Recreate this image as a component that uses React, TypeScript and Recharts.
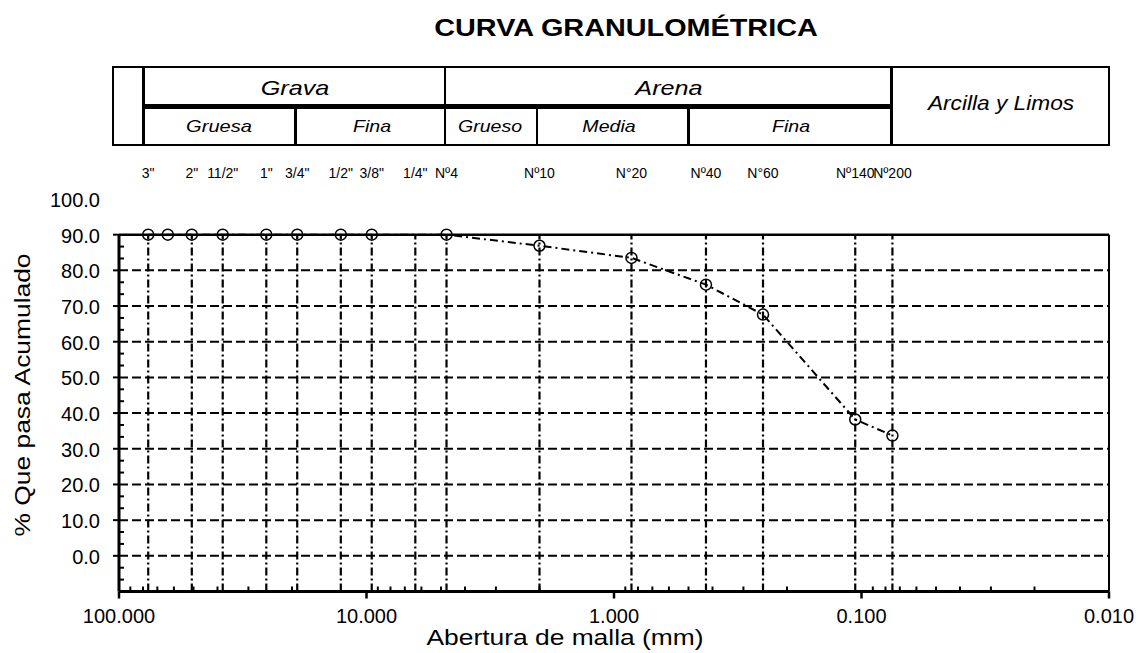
import { Label, Line, LineChart, ReferenceLine, XAxis, YAxis } from "recharts";

// Sieve openings (mm) and their names, as printed above the plot.
const SIEVE_NAMES = ['3"', '2"', '11/2"', '1"', '3/4"', '1/2"', '3/8"', '1/4"', "Nº4", "Nº10", "N°20", "Nº40", "N°60", "Nº140", "Nº200"];
const SIEVE_MM = [76.2, 50.8, 38.1, 25.4, 19.05, 12.7, 9.525, 6.35, 4.75, 2.0, 0.85, 0.425, 0.25, 0.106, 0.075];

// Sample: opening (mm) and % passing.
const SAMPLE_MM = [76.2, 63.5, 50.8, 38.1, 25.4, 19.05, 12.7, 9.525, 4.75, 2.0, 0.85, 0.425, 0.25, 0.106, 0.075];
const SAMPLE_PASS = [90.0, 90.0, 90.0, 90.0, 90.0, 90.0, 90.0, 90.0, 90.0, 86.9, 83.5, 76.0, 67.6, 38.2, 33.7];

const X_MAJOR = [100, 10, 1, 0.1, 0.01];
const X_MINOR_MULT = [2, 3, 4, 5, 6, 7, 8, 9];
const X_DECADES = [10, 1, 0.1, 0.01];
const X_MINOR = X_DECADES.flatMap((d) => X_MINOR_MULT.map((m) => m * d));

const Y_MAJOR = [0, 10, 20, 30, 40, 50, 60, 70, 80, 90, 100];
const Y_GRID = [0, 10, 20, 30, 40, 50, 60, 70, 80];
const Y_MINOR = [-10, ...Y_GRID].flatMap((v) => [v + 10 / 3, v + 20 / 3]);

const FONT = '"Liberation Sans", Arial, sans-serif';
const INK = "#000";

const data = SAMPLE_MM.map((mm, i) => ({ mm, pass: SAMPLE_PASS[i] }));

const near = (a: number, b: number) => Math.abs(a - b) < 1e-9;

function XTick(props: any) {
  const { x, y, payload } = props;
  const v = payload.value;
  if (X_MAJOR.some((m) => near(m, v))) {
    return (
      <g>
        <line x1={x} x2={x} y1={y} y2={y + 7} stroke={INK} strokeWidth={2.5} />
        <text x={x} y={y + 31} textAnchor="middle" fontSize={20} fontFamily={FONT} fill={INK}>
          {v.toFixed(3)}
        </text>
      </g>
    );
  }
  return <line x1={x} x2={x} y1={y} y2={y - 5} stroke={INK} strokeWidth={2} />;
}

function YTick(props: any) {
  const { x, y, payload } = props;
  const v = payload.value;
  if (Y_MAJOR.includes(v)) {
    return (
      <g>
        {v <= 90 && <line x1={x - 6} x2={x} y1={y} y2={y} stroke={INK} strokeWidth={2} />}
        <text x={x - 19} y={y + 8} textAnchor="end" fontSize={20} fontFamily={FONT} fill={INK}>
          {v.toFixed(1)}
        </text>
      </g>
    );
  }
  return <line x1={x} x2={x + 5} y1={y} y2={y} stroke={INK} strokeWidth={2} />;
}

function SieveTick(props: any) {
  const { x, y, payload } = props;
  const i = SIEVE_MM.findIndex((s) => Math.abs(s - payload.value) < 1e-6);
  return (
    <text x={x} y={y - 21} textAnchor="middle" fontSize={14} fontFamily={FONT} fill={INK}>
      {i >= 0 ? SIEVE_NAMES[i] : ""}
    </text>
  );
}

function Dot(props: any) {
  const { cx, cy, index } = props;
  return <circle key={index} cx={cx} cy={cy} r={5.5} fill="none" stroke={INK} strokeWidth={1.5} />;
}

function Txt({ x, y, size, italic, bold, sx = 1.2, children }: any) {
  return (
    <div
      style={{
        position: "absolute",
        left: x,
        top: y,
        transform: `translate(-50%, -50%) scaleX(${sx})`,
        fontSize: size,
        fontStyle: italic ? "italic" : "normal",
        fontWeight: bold ? 700 : 400,
        whiteSpace: "nowrap",
        lineHeight: 1,
      }}
    >
      {children}
    </div>
  );
}

function Rule({ l, t, w, h }: any) {
  return <div style={{ position: "absolute", left: l, top: t, width: w, height: h, background: INK }} />;
}

function Header() {
  return (
    <>
      <div
        style={{
          position: "absolute",
          left: 112,
          top: 66,
          width: 998,
          height: 80,
          border: "2px solid #000",
          boxSizing: "border-box",
        }}
      />
      <Rule l={142} t={66} w={3} h={80} />
      <Rule l={143} t={104} w={748} h={5} />
      <Rule l={444} t={66} w={2} h={80} />
      <Rule l={890} t={66} w={3} h={80} />
      <Rule l={294} t={106} w={3} h={40} />
      <Rule l={536} t={106} w={2} h={40} />
      <Rule l={687} t={106} w={3} h={40} />

      <Txt x={295} y={87} size={21} italic>Grava</Txt>
      <Txt x={669} y={87} size={21} italic>Arena</Txt>
      <Txt x={1001} y={102} size={21} italic sx={1.08}>Arcilla y Limos</Txt>
      <Txt x={219} y={126} size={17} italic sx={1.18}>Gruesa</Txt>
      <Txt x={372} y={126} size={17} italic sx={1.15}>Fina</Txt>
      <Txt x={490} y={126} size={17} italic sx={1.15}>Grueso</Txt>
      <Txt x={609} y={126} size={17} italic sx={1.15}>Media</Txt>
      <Txt x={791} y={126} size={17} italic sx={1.15}>Fina</Txt>
    </>
  );
}

export default function App() {
  return (
    <div
      style={{
        position: "absolute",
        left: 0,
        top: 0,
        width: 1138,
        height: 653,
        background: "#fff",
        fontFamily: FONT,
        color: INK,
        overflow: "hidden",
      }}
    >
      <LineChart width={1138} height={653} data={data} margin={{ top: 169, right: 29, bottom: 0, left: 59 }}>
        <XAxis
          xAxisId="main"
          dataKey="mm"
          type="number"
          scale="log"
          domain={[0.01, 100]}
          reversed
          allowDataOverflow
          ticks={[...X_MAJOR, ...X_MINOR]}
          interval={0}
          tick={XTick}
          tickLine={false}
          tickSize={0}
          tickMargin={0}
          axisLine={{ stroke: INK, strokeWidth: 3 }}
          height={61.5}
        >
          <Label
            content={() => (
              <text
                x={565}
                y={645}
                textAnchor="middle"
                fontSize={22}
                fontFamily={FONT}
                fill={INK}
                transform="translate(565 645) scale(1.2 1) translate(-565 -645)"
              >
                Abertura de malla (mm)
              </text>
            )}
          />
        </XAxis>
        <XAxis
          xAxisId="sieve"
          dataKey="mm"
          orientation="top"
          type="number"
          scale="log"
          domain={[0.01, 100]}
          reversed
          allowDataOverflow
          ticks={SIEVE_MM}
          interval={0}
          tick={SieveTick}
          tickLine={false}
          tickSize={0}
          tickMargin={0}
          axisLine={false}
          height={30}
        />
        <YAxis
          type="number"
          domain={[-10, 100]}
          allowDataOverflow
          ticks={[...Y_MAJOR, ...Y_MINOR]}
          interval={0}
          tick={YTick}
          tickLine={false}
          tickSize={0}
          tickMargin={0}
          axisLine={false}
          width={60}
        >
          <Label
            content={() => (
              <text
                textAnchor="middle"
                fontSize={22}
                fontFamily={FONT}
                fill={INK}
                transform="translate(30 395) rotate(-90) scale(1.2 1)"
              >
                % Que pasa Acumulado
              </text>
            )}
          />
        </YAxis>

        {Y_GRID.map((v) => (
          <ReferenceLine key={`h${v}`} xAxisId="main" y={v} stroke={INK} strokeWidth={2} strokeDasharray="9 4" />
        ))}
        {SIEVE_MM.map((s) => (
          <ReferenceLine
            key={`v${s}`}
            xAxisId="main"
            segment={[
              { x: s, y: -10 },
              { x: s, y: 90 },
            ]}
            stroke={INK}
            strokeWidth={2.2}
            strokeDasharray="8 3 2 3"
          />
        ))}
        <ReferenceLine xAxisId="main" y={90} stroke={INK} strokeWidth={2.5} />
        <ReferenceLine
          xAxisId="main"
          segment={[
            { x: 0.01, y: -10 },
            { x: 0.01, y: 90 },
          ]}
          stroke={INK}
          strokeWidth={2}
        />
        <ReferenceLine
          xAxisId="main"
          segment={[
            { x: 100, y: -10 },
            { x: 100, y: 90 },
          ]}
          stroke={INK}
          strokeWidth={3}
        />

        {/* carries the top sieve axis; draws nothing */}
        <Line
          xAxisId="sieve"
          dataKey="pass"
          stroke="none"
          dot={false}
          activeDot={false}
          legendType="none"
          isAnimationActive={false}
        />
        <Line
          xAxisId="main"
          dataKey="pass"
          type="linear"
          stroke={INK}
          strokeWidth={2}
          strokeDasharray="8 4 2 4"
          dot={Dot}
          activeDot={false}
          isAnimationActive={false}
        />
      </LineChart>

      <Header />
      <Txt x={626} y={28} size={24} bold>CURVA GRANULOMÉTRICA</Txt>
    </div>
  );
}
